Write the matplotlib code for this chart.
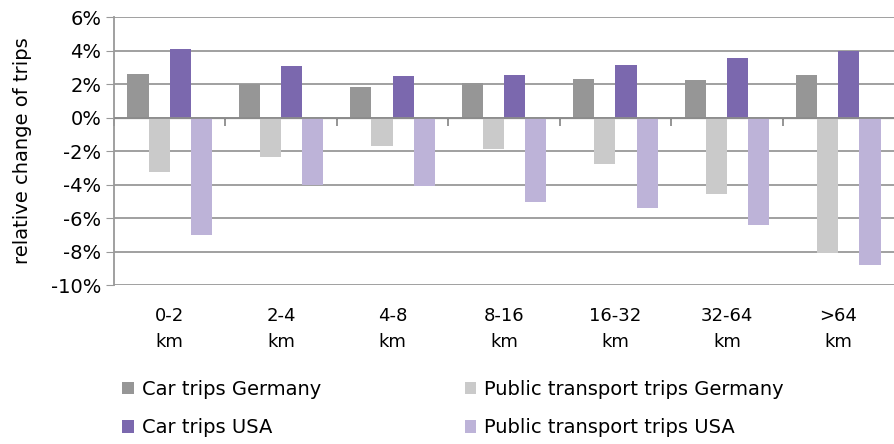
import numpy as np
import matplotlib
matplotlib.use("Agg")
import matplotlib.pyplot as plt
from matplotlib.patches import Patch
from matplotlib.ticker import FuncFormatter, MultipleLocator

plt.rcParams['font.family'] = ['DejaVu Sans']

# distance classes
categories = ["0-2\nkm", "2-4\nkm", "4-8\nkm", "8-16\nkm", "16-32\nkm", "32-64\nkm", ">64\nkm"]

# relative change of trips, percent
car_germany = [2.6, 2.0, 1.8, 2.05, 2.3, 2.25, 2.55]
pt_germany = [-3.25, -2.35, -1.7, -1.85, -2.75, -4.55, -8.1]
car_usa = [4.1, 3.1, 2.5, 2.55, 3.15, 3.55, 3.95]
pt_usa = [-7.0, -4.0, -4.1, -5.05, -5.4, -6.4, -8.8]

series = [
    ("Car trips Germany", car_germany, "#969696"),
    ("Public transport trips Germany", pt_germany, "#cacaca"),
    ("Car trips USA", car_usa, "#7b68ae"),
    ("Public transport trips USA", pt_usa, "#bdb3d8"),
]

fig = plt.figure(figsize=(8.94, 4.44), dpi=100)
ax = fig.add_axes([0.1275, 0.358, 0.8725, 0.6037])

x = np.arange(len(categories))
w = 0.19
for i, (name, vals, col) in enumerate(series):
    ax.bar(x + (i - 1.5) * w, vals, w, color=col, zorder=3, linewidth=0)

ax.set_xlim(-0.5, len(categories) - 0.5)
ax.set_ylim(-10, 6)
ax.yaxis.set_major_locator(MultipleLocator(2))
ax.yaxis.set_major_formatter(FuncFormatter(lambda v, p: "%d%%" % round(v)))
ax.grid(axis='y', color='#999999', linewidth=1.3, zorder=0)
ax.axhline(0, color='#8c8c8c', linewidth=1.3, zorder=4)

for s in ['top', 'right', 'bottom']:
    ax.spines[s].set_visible(False)
ax.spines['left'].set_color('#999999')
ax.spines['left'].set_linewidth(1.3)

ax.set_xticks(x)
ax.set_xticklabels(categories, fontsize=13, linespacing=1.55)
ax.tick_params(axis='x', length=0, pad=16)
ax.tick_params(axis='y', length=6, color='#999999', labelsize=14, pad=3)
ax.set_ylabel("relative change of trips", fontsize=14, labelpad=14)

# small ticks on the zero line at the category boundaries
sec = ax.secondary_xaxis(10 / 16)
sec.set_xticks(np.arange(len(categories)) - 0.5)
sec.set_xticklabels([])
sec.tick_params(length=6, color='#8c8c8c', width=1.3, direction='in')
sec.spines['bottom'].set_visible(False)

handles = [Patch(facecolor=c, label=n) for n, v, c in series]
fig.legend(handles=[handles[0], handles[2], handles[1], handles[3]], ncol=2,
           loc='upper left', bbox_to_anchor=(0.128, 0.162), frameon=False,
           fontsize=14, handlelength=0.6, handleheight=0.6, handletextpad=0.4,
           columnspacing=7.4, labelspacing=1.0, borderaxespad=0)

fig.savefig("out.png", dpi=100)
